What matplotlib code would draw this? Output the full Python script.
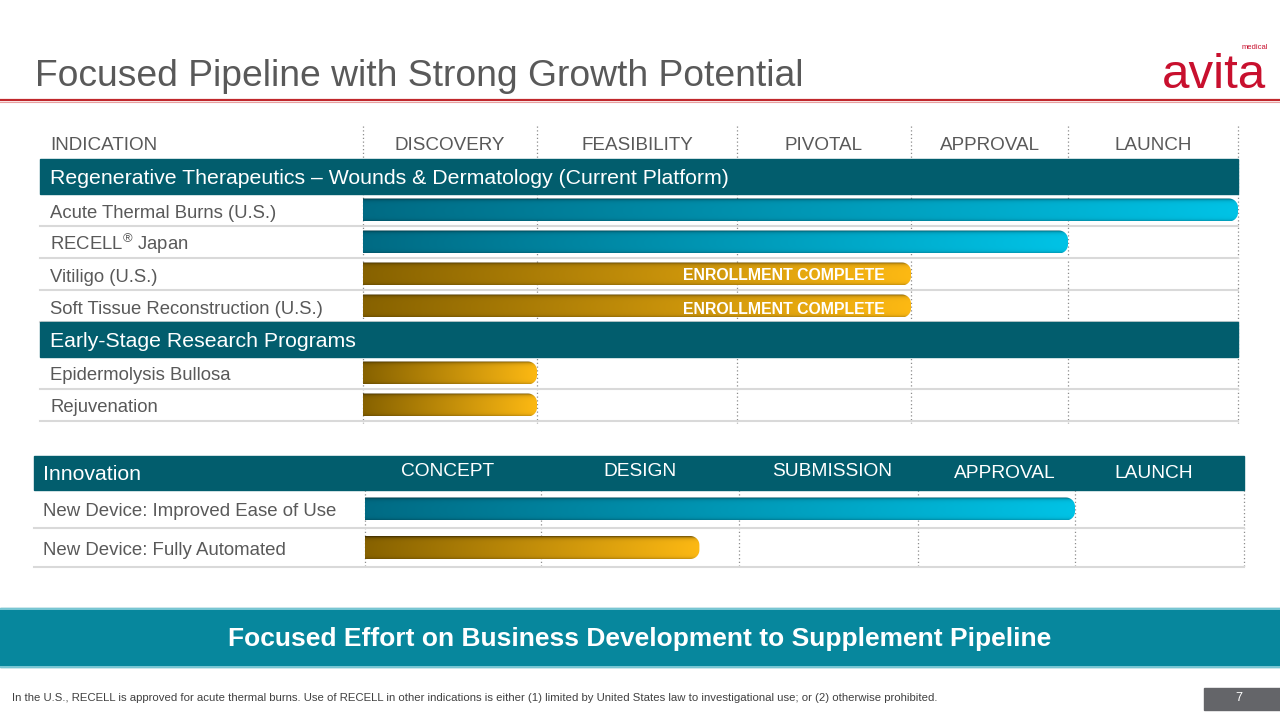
import numpy as np
import matplotlib
matplotlib.use('Agg')
import matplotlib.pyplot as plt
from matplotlib.patches import Rectangle, Polygon

plt.rcParams['font.family'] = ['Liberation Sans', 'DejaVu Sans']
plt.rcParams['mathtext.fontset'] = 'custom'
plt.rcParams['mathtext.rm'] = 'Liberation Sans'

#------------------------------------------------------------------------
# data
stages = ['DISCOVERY', 'FEASIBILITY', 'PIVOTAL', 'APPROVAL', 'LAUNCH']
indications = ['Acute Thermal Burns (U.S.)', r'RECELL$^{\mathrm{®}}$ Japan', 'Vitiligo (U.S.)',
               'Soft Tissue Reconstruction (U.S.)', 'Epidermolysis Bullosa', 'Rejuvenation']
groups = ['Regenerative Therapeutics \u2013 Wounds & Dermatology (Current Platform)',
          'Early-Stage Research Programs']
group_of = [0, 0, 0, 0, 1, 1]
progress = [5, 4, 3, 3, 1, 1]          # stages completed
kind = ['teal', 'teal', 'gold', 'gold', 'gold', 'gold']
notes = ['', '', 'ENROLLMENT COMPLETE', 'ENROLLMENT COMPLETE', '', '']

innov_stages = ['CONCEPT', 'DESIGN', 'SUBMISSION', 'APPROVAL', 'LAUNCH']
devices = ['New Device: Improved Ease of Use', 'New Device: Fully Automated']
device_progress = [4, 1.8]
device_kind = ['teal', 'gold']

#------------------------------------------------------------------------
# layout (pixels)
GREY = '#595959'
BAND = '#025d6d'
upper_edges = [363, 537, 737, 911, 1068, 1238]
lower_edges = [365, 541, 739, 918, 1075, 1244]
lower_label_x = [448, 640, 832, 1005, 1154]
cmaps = {'teal': ('#006b84', '#00c3e6'), 'gold': ('#876200', '#fdb913')}


def hex2rgb(c):
    return np.array(matplotlib.colors.to_rgb(c))


def draw_bar(ax, x0, x1, yc, h, kind, r=9):
    top, bot = yc - h / 2, yc + h / 2
    th = np.linspace(-np.pi / 2, 0, 12)
    arc1 = np.c_[x1 - r + r * np.cos(th), top + r + r * np.sin(th)]
    th = np.linspace(0, np.pi / 2, 12)
    arc2 = np.c_[x1 - r + r * np.cos(th), bot - r + r * np.sin(th)]
    pts = np.vstack([[x0, top], arc1, arc2, [x0, bot]])
    patch = Polygon(pts, closed=True, facecolor='none', edgecolor='none')
    ax.add_patch(patch)
    cl, cr = hex2rgb(cmaps[kind][0]), hex2rgb(cmaps[kind][1])
    t = np.linspace(0, 1, 256)
    row = cl[None, :] * (1 - t[:, None]) + cr[None, :] * t[:, None]
    v = np.linspace(0, 1, 40)
    shade = 1 - 0.55 * np.exp(-v / 0.07) - 0.2 * np.exp(-(1 - v) / 0.06)
    img = np.clip(row[None, :, :] * shade[:, None, None], 0, 1)
    im = ax.imshow(img, extent=(x0, x1, bot, top), origin='upper',
                   aspect='auto', interpolation='bilinear', zorder=3)
    im.set_clip_path(patch)


fig = plt.figure(figsize=(12.8, 7.2), dpi=100)
ax = fig.add_axes([0, 0, 1, 1])
ax.set_axis_off()

# title + logo
ax.text(35, 76, 'Focused Pipeline with Strong Growth Potential', fontsize=26.8,
        color=GREY, va='center', ha='left')
ax.plot([0, 1280], [99.5, 99.5], color='#c0282d', lw=1.6)
ax.plot([0, 1280], [101.5, 101.5], color='#e8a0a0', lw=0.8)
ax.text(1162, 88, 'avita', fontsize=35.5, color='#c8102e', ha='left', va='baseline')
ax.text(1268, 49, 'medical', fontsize=5.5, color='#c8102e', ha='right', va='baseline')

#------------------------------------------------------------------------
# upper table
ax.text(50, 145, 'INDICATION', fontsize=13.6, color=GREY, va='center')
for i, s in enumerate(stages):
    ax.text((upper_edges[i] + upper_edges[i + 1]) / 2, 145, s, fontsize=13.6,
            color=GREY, va='center', ha='center')
for x in upper_edges:
    ax.plot([x, x], [126, 423], color='#8c8c8c', lw=0.9, ls=(0, (1, 2)), zorder=1)

band_h, row_h = 35, 32
y = 159
last_group = -1
for i, name in enumerate(indications):
    g = group_of[i]
    if g != last_group:
        ax.add_patch(Rectangle((40, y), upper_edges[-1] - 40, band_h, color=BAND, zorder=4))
        ax.text(50, y + band_h / 2 + 2, groups[g], fontsize=15.3, color='white',
                va='center', zorder=5)
        y += band_h
        last_group = g
    yc = y + row_h / 2
    ax.text(50, yc + 7.5, name, fontsize=13.3, color=GREY, va='baseline')
    ax.plot([40, upper_edges[-1]], [y + row_h, y + row_h], color='#d9d9d9', lw=1.5, zorder=2)
    x1 = np.interp(progress[i], np.arange(len(upper_edges)), upper_edges)
    draw_bar(ax, upper_edges[0], x1, yc, 23, kind[i])
    if notes[i]:
        ax.text(784, yc + (1 if i == 2 else 4), notes[i], fontsize=11.4, color='white',
                fontweight='bold', ha='center', va='center', zorder=6)
    y += row_h

#------------------------------------------------------------------------
# lower table
ax.add_patch(Rectangle((34, 456), lower_edges[-1] - 34, 34, color=BAND, zorder=4))
ax.text(43, 474, 'Innovation', fontsize=15.3, color='white', va='center', zorder=5)
for i, s in enumerate(innov_stages):
    ax.text(lower_label_x[i], 472 + (2 if i >= 3 else 0), s, fontsize=13.8,
            color='white', va='center', ha='center', zorder=5)
for x in lower_edges:
    ax.plot([x, x], [490, 567], color='#8c8c8c', lw=0.9, ls=(0, (1, 2)), zorder=1)
y = 490
for i, name in enumerate(devices):
    yc = y + 19
    ax.text(43, yc + 7.5, name, fontsize=13.4, color=GREY, va='baseline')
    ax.plot([34, lower_edges[-1]], [y + 38, y + 38], color='#d9d9d9', lw=1.5, zorder=2)
    x1 = np.interp(device_progress[i], np.arange(len(lower_edges)), lower_edges)
    draw_bar(ax, lower_edges[0], x1, yc, 23, device_kind[i])
    y += 38.5

#------------------------------------------------------------------------
# bottom banner + footer
ax.add_patch(Rectangle((0, 608), 1280, 59, color='#07879d', zorder=2))
ax.plot([0, 1280], [608.5, 608.5], color='#8fd3df', lw=1.2, zorder=3)
ax.plot([0, 1280], [666.5, 666.5], color='#8fd3df', lw=1.2, zorder=3)
ax.text(640, 639, 'Focused Effort on Business Development to Supplement Pipeline',
        fontsize=19, fontweight='bold', color='white', ha='center', va='center', zorder=4)
ax.text(12, 698, 'In the U.S., RECELL is approved for acute thermal burns. Use of RECELL in other '
        'indications is either (1) limited by United States law to investigational use; '
        'or (2) otherwise prohibited.', fontsize=8.2, color='#404040', va='center')
ax.add_patch(Rectangle((1204, 688), 76, 22, color='#646569'))
ax.text(1239, 698, '7', fontsize=9, color='white', ha='center', va='center')

ax.set_xlim(0, 1280)
ax.set_ylim(720, 0)
fig.savefig('out.png', dpi=100, facecolor='white')
